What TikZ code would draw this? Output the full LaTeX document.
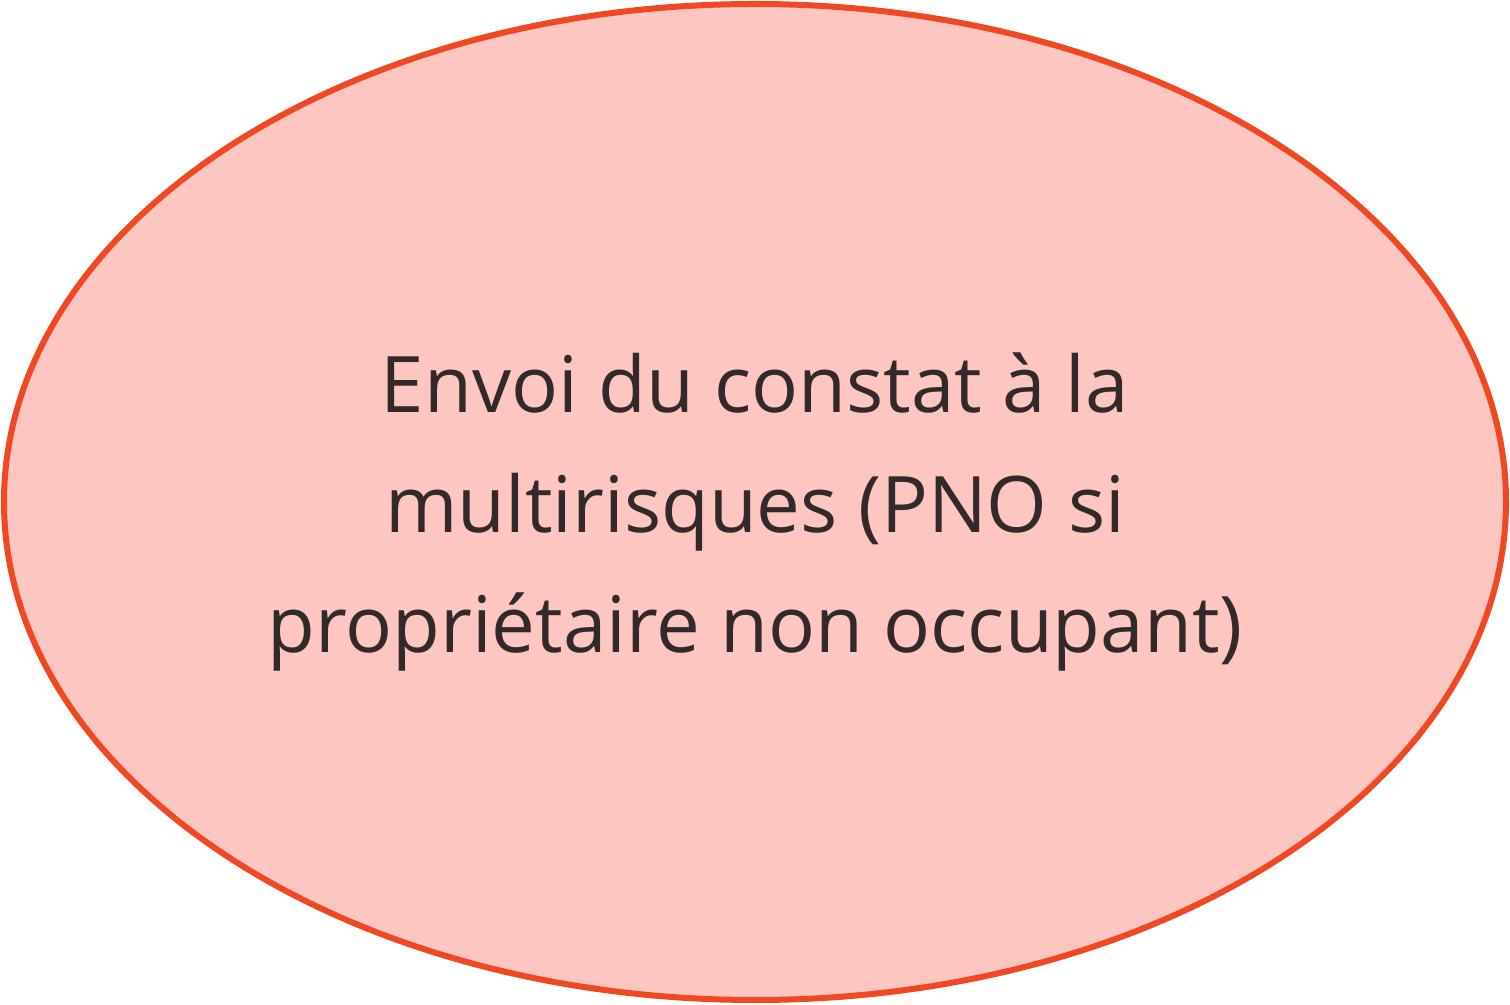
\documentclass[tikz,border=0pt]{standalone}
\usepackage{fontspec}
\setmainfont{Open Sans}
\usetikzlibrary{shapes.geometric}
\definecolor{stepfill}{HTML}{FEC6C1}
\definecolor{stepline}{HTML}{EF4823}
\definecolor{steptext}{HTML}{33292A}

\begin{document}
\begin{tikzpicture}[
      x=1pt, y=1pt,
      stepbox/.style={ellipse,draw=stepline,fill=stepfill,line width=6pt,
        minimum width=1502pt,minimum height=996pt,inner sep=0pt},
      steplabel/.style={text=steptext,align=center,
        font=\fontsize{78}{120}\selectfont}
    ]
    \useasboundingbox (0,0) rectangle (1510,1004);
    \node[stepbox] (envoi) at (755,502) {};
    \node[steplabel] (texte) at (envoi.center) [yshift=-10pt] {Envoi du constat à la\\ multirisques (PNO si\\ propriétaire non occupant)};
  \end{tikzpicture}
\end{document}
